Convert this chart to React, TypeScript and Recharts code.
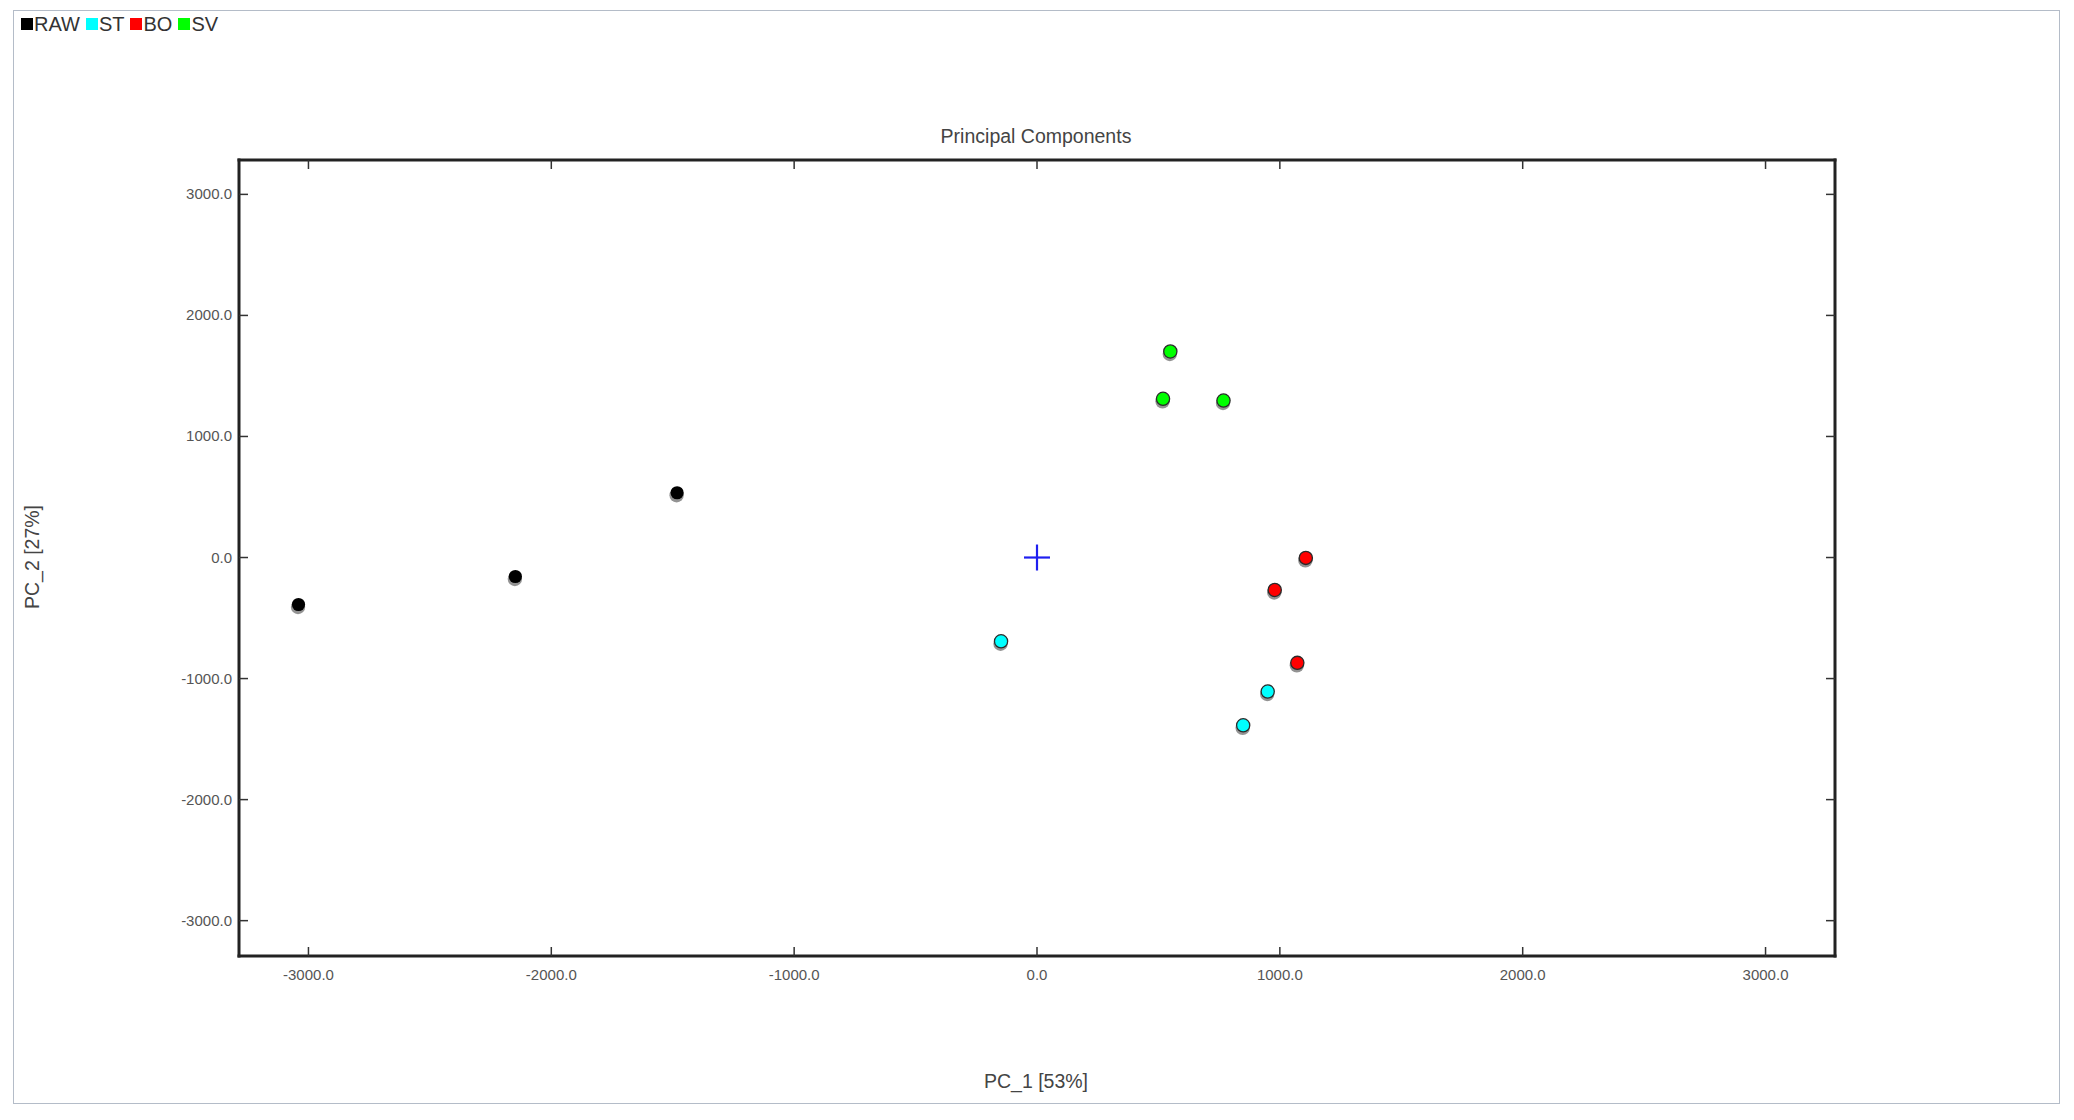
import React from 'react';
import { ScatterChart, Scatter, XAxis, YAxis } from 'recharts';

// ---- data (PC_1, PC_2 scores) ----
const rawX = [-3041, -2148, -1482];
const rawY = [-388, -157, 535];
const stX = [-148, 950, 849];
const stY = [-692, -1107, -1386];
const boX = [1107, 979, 1072];
const boY = [-3, -268, -870];
const svX = [549, 519, 768];
const svY = [1702, 1311, 1297];
const centerX = [0];
const centerY = [0];

const seriesNames = ['RAW', 'ST', 'BO', 'SV'];
const seriesColors = ['#000000', '#00ffff', '#ff0000', '#00ff00'];
const axisTicks = [-3000, -2000, -1000, 0, 1000, 2000, 3000];
const xDomain = [-3286, 3286];
const yDomain = [-3292, 3284];

const title = 'Principal Components';
const xLabel = 'PC_1 [53%]';
const yLabel = 'PC_2 [27%]';

const toPoints = (xs: number[], ys: number[]) => xs.map((x, i) => ({ x, y: ys[i] }));
const seriesData = [
  toPoints(rawX, rawY),
  toPoints(stX, stY),
  toPoints(boX, boY),
  toPoints(svX, svY),
];
const centerData = toPoints(centerX, centerY);

const W = 2074;
const H = 1120;
const FONT = '"Liberation Sans", Arial, sans-serif';
const TICK_LEN = 9;
const TICK_COLOR = '#333';
const LABEL_COLOR = '#555';

const LeftTick = (props: any) => {
  const { x, y, payload } = props;
  const ax = x + 7;
  return (
    <g>
      <line x1={ax} y1={y} x2={ax + TICK_LEN} y2={y} stroke={TICK_COLOR} strokeWidth={1.5} />
      <text x={x} y={y} dy={5} textAnchor="end" fill={LABEL_COLOR} fontSize={15} fontFamily={FONT}>
        {Number(payload.value).toFixed(1)}
      </text>
    </g>
  );
};

const BottomTick = (props: any) => {
  const { x, y, payload } = props;
  return (
    <g>
      <line x1={x} y1={y} x2={x} y2={y - TICK_LEN} stroke={TICK_COLOR} strokeWidth={1.5} />
      <text x={x} y={y} dy={24} textAnchor="middle" fill={LABEL_COLOR} fontSize={15} fontFamily={FONT}>
        {Number(payload.value).toFixed(1)}
      </text>
    </g>
  );
};

const TopTick = (props: any) => {
  const { x, y } = props;
  return <line x1={x} y1={y} x2={x} y2={y + TICK_LEN} stroke={TICK_COLOR} strokeWidth={1.5} />;
};

const RightTick = (props: any) => {
  const { x, y } = props;
  return <line x1={x} y1={y} x2={x - TICK_LEN} y2={y} stroke={TICK_COLOR} strokeWidth={1.5} />;
};

const makeDot = (color: string, outline: boolean) => (props: any) => {
  const { cx, cy } = props;
  if (cx == null || cy == null) return <g />;
  return (
    <g>
      <circle cx={cx - 0.5} cy={cy + 2.5} r={7.2} fill="#3a3a3a" opacity={0.55} />
      <circle
        cx={cx}
        cy={cy}
        r={6.6}
        fill={color}
        stroke={outline ? '#2a2a2a' : color}
        strokeWidth={outline ? 1.3 : 0}
      />
    </g>
  );
};

const CrossShape = (props: any) => {
  const { cx, cy } = props;
  if (cx == null || cy == null) return <g />;
  const s = 13;
  return (
    <g>
      <line x1={cx - s} y1={cy} x2={cx + s} y2={cy} stroke="#1f1ff0" strokeWidth={2.2} />
      <line x1={cx} y1={cy - s} x2={cx} y2={cy + s} stroke="#1f1ff0" strokeWidth={2.2} />
    </g>
  );
};

const EmptyShape = () => <g />;

const frameLine = { stroke: '#222', strokeWidth: 3, strokeLinecap: 'square' as const };

export default function App() {
  return (
    <div
      style={{
        position: 'absolute',
        left: 0,
        top: 0,
        width: W,
        height: H,
        background: '#fff',
        fontFamily: FONT,
      }}
    >
      {/* outer border */}
      <div
        style={{
          position: 'absolute',
          left: 13,
          top: 10,
          width: 2060 - 13,
          height: 1104 - 10,
          border: '1.5px solid #b4bcc8',
          boxSizing: 'border-box',
        }}
      />
      {/* legend */}
      <div
        style={{
          position: 'absolute',
          left: 21,
          top: 13,
          display: 'flex',
          alignItems: 'center',
          fontSize: 20,
          color: '#333',
          lineHeight: '22px',
        }}
      >
        {seriesNames.map((n, i) => (
          <div key={n} style={{ display: 'flex', alignItems: 'center', marginRight: 6 }}>
            <span
              style={{
                display: 'inline-block',
                width: 12,
                height: 12,
                background: seriesColors[i],
                marginRight: 1,
              }}
            />
            <span>{n}</span>
          </div>
        ))}
      </div>

      <div style={{ position: 'absolute', left: 0, top: 0 }}>
        <ScatterChart width={W} height={H} margin={{ top: 159, right: 238, bottom: 124, left: 159 }}>
          <XAxis
            type="number"
            dataKey="x"
            xAxisId="bottom"
            orientation="bottom"
            domain={xDomain}
            ticks={axisTicks}
            interval={0}
            allowDataOverflow
            height={40}
            tickSize={0}
            tickMargin={0}
            axisLine={frameLine}
            tickLine={false}
            tick={<BottomTick />}
          />
          <XAxis
            type="number"
            dataKey="x"
            xAxisId="top"
            orientation="top"
            domain={xDomain}
            ticks={axisTicks}
            interval={0}
            allowDataOverflow
            height={1}
            tickSize={0}
            tickMargin={0}
            axisLine={frameLine}
            tickLine={false}
            tick={<TopTick />}
          />
          <YAxis
            type="number"
            dataKey="y"
            yAxisId="left"
            orientation="left"
            domain={yDomain}
            ticks={axisTicks}
            interval={0}
            allowDataOverflow
            width={80}
            tickSize={0}
            tickMargin={7}
            axisLine={frameLine}
            tickLine={false}
            tick={<LeftTick />}
          />
          <YAxis
            type="number"
            dataKey="y"
            yAxisId="right"
            orientation="right"
            domain={yDomain}
            ticks={axisTicks}
            interval={0}
            allowDataOverflow
            width={1}
            tickSize={0}
            tickMargin={0}
            axisLine={frameLine}
            tickLine={false}
            tick={<RightTick />}
          />
          <Scatter
            name="frame"
            data={centerData}
            xAxisId="top"
            yAxisId="right"
            shape={<EmptyShape />}
            legendType="none"
            isAnimationActive={false}
          />
          <Scatter
            name="center"
            data={centerData}
            xAxisId="bottom"
            yAxisId="left"
            shape={<CrossShape />}
            isAnimationActive={false}
          />
          {seriesData.map((d, i) => (
            <Scatter
              key={seriesNames[i]}
              name={seriesNames[i]}
              data={d}
              xAxisId="bottom"
              yAxisId="left"
              fill={seriesColors[i]}
              shape={makeDot(seriesColors[i], i !== 0)}
              isAnimationActive={false}
            />
          ))}
        </ScatterChart>
      </div>

      {/* title */}
      <div
        style={{
          position: 'absolute',
          left: 1036,
          top: 125,
          transform: 'translateX(-50%)',
          fontSize: 19.5,
          color: '#444',
          whiteSpace: 'nowrap',
        }}
      >
        {title}
      </div>
      {/* x label */}
      <div
        style={{
          position: 'absolute',
          left: 1036,
          top: 1070,
          transform: 'translateX(-50%)',
          fontSize: 19.5,
          color: '#444',
          whiteSpace: 'nowrap',
        }}
      >
        {xLabel}
      </div>
      {/* y label */}
      <div
        style={{
          position: 'absolute',
          left: 32,
          top: 557,
          transform: 'translate(-50%, -50%) rotate(-90deg)',
          fontSize: 19.5,
          color: '#444',
          whiteSpace: 'nowrap',
        }}
      >
        {yLabel}
      </div>
    </div>
  );
}
